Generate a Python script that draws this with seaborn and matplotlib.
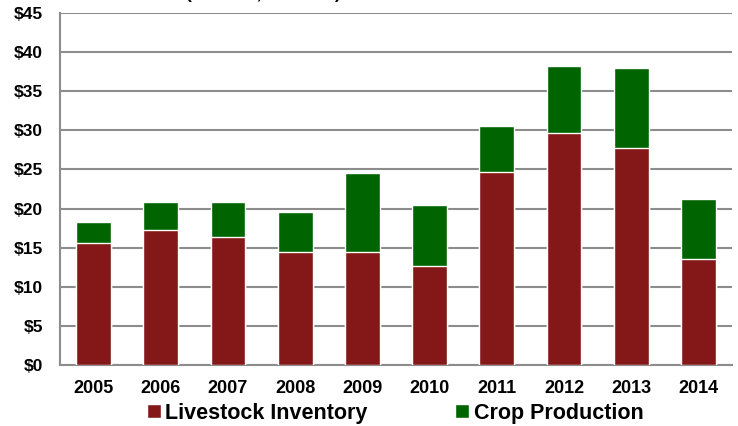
import matplotlib
matplotlib.use("Agg")
import matplotlib.pyplot as plt
from matplotlib.ticker import FixedLocator
import seaborn as sns
import pandas as pd

# data ($ millions)
years = ["2005", "2006", "2007", "2008", "2009", "2010", "2011", "2012", "2013", "2014"]
livestock = [15.6, 17.2, 16.3, 14.5, 14.5, 12.7, 24.7, 29.6, 27.8, 13.5]
crop = [2.7, 3.6, 4.6, 5.1, 10.0, 7.8, 5.8, 8.6, 10.2, 7.7]

red = "#841818"
green = "#006400"
grid_col = "#8c8c8c"

sns.set_style("white")
plt.rcParams["font.family"] = ["Liberation Sans", "DejaVu Sans"]
plt.rcParams["font.weight"] = "bold"
plt.rcParams["text.color"] = "black"

df = pd.DataFrame({"year": years, "livestock": livestock, "crop": crop})
df["total"] = df["livestock"] + df["crop"]

fig = plt.figure(figsize=(7.38, 4.26), dpi=100)
ax = fig.add_axes([60 / 738, 61 / 426, 672 / 738, 352 / 426])

# stacked bars: total (green) first, livestock (red) over it
sns.barplot(data=df, x="year", y="total", color=green, width=0.52,
            saturation=1, ax=ax, label="Crop Production", zorder=3)
sns.barplot(data=df, x="year", y="livestock", color=red, width=0.52,
            saturation=1, ax=ax, label="Livestock Inventory", zorder=3)

ax.set_xlim(-0.5, 9.5)
ax.set_ylim(0, 45)
ax.set_yticks(range(0, 50, 5))
ax.set_yticklabels([f"${v}" for v in range(0, 50, 5)], fontweight="bold")
ax.set_xticks(range(len(years)))
ax.set_xticklabels(years, fontweight="bold")
ax.yaxis.grid(True, color=grid_col, linewidth=1.5, zorder=0)
ax.set_axisbelow(True)
ax.set_xlabel("")
ax.set_ylabel("")

for s in ["top", "right"]:
    ax.spines[s].set_visible(False)
for s in ["left", "bottom"]:
    ax.spines[s].set_color(grid_col)
    ax.spines[s].set_linewidth(1.5)

ax.tick_params(axis="x", which="major", length=0, pad=10.5, labelsize=13,
               labelcolor="black")
ax.xaxis.set_minor_locator(FixedLocator([i - 0.5 for i in range(11)]))
ax.tick_params(axis="x", which="minor", length=4.3, width=1.5, color=grid_col)
ax.tick_params(axis="y", length=4.3, width=1.5, color=grid_col, pad=8,
               labelsize=12.5, labelcolor="black")

# legend in Livestock, Crop order
handles, labels = ax.get_legend_handles_labels()
if ax.get_legend() is not None:
    ax.get_legend().remove()
order = [labels.index("Livestock Inventory"), labels.index("Crop Production")]
fig.legend([handles[i] for i in order], [labels[i] for i in order],
           loc="center", bbox_to_anchor=(395 / 738, 1 - 413 / 426), ncol=2,
           frameon=False, handlelength=0.65, handleheight=0.65, handletextpad=0.2,
           columnspacing=4.1, labelcolor="black",
           prop={"weight": "bold", "size": 15.5})

# title, mostly cut off at the top of the picture
fig.text(263 / 738, 1 + 1 / 426, "(Millions, Nominal)", ha="center",
         va="baseline", fontsize=12.5, color="black")

fig.savefig("out.png", dpi=100)
